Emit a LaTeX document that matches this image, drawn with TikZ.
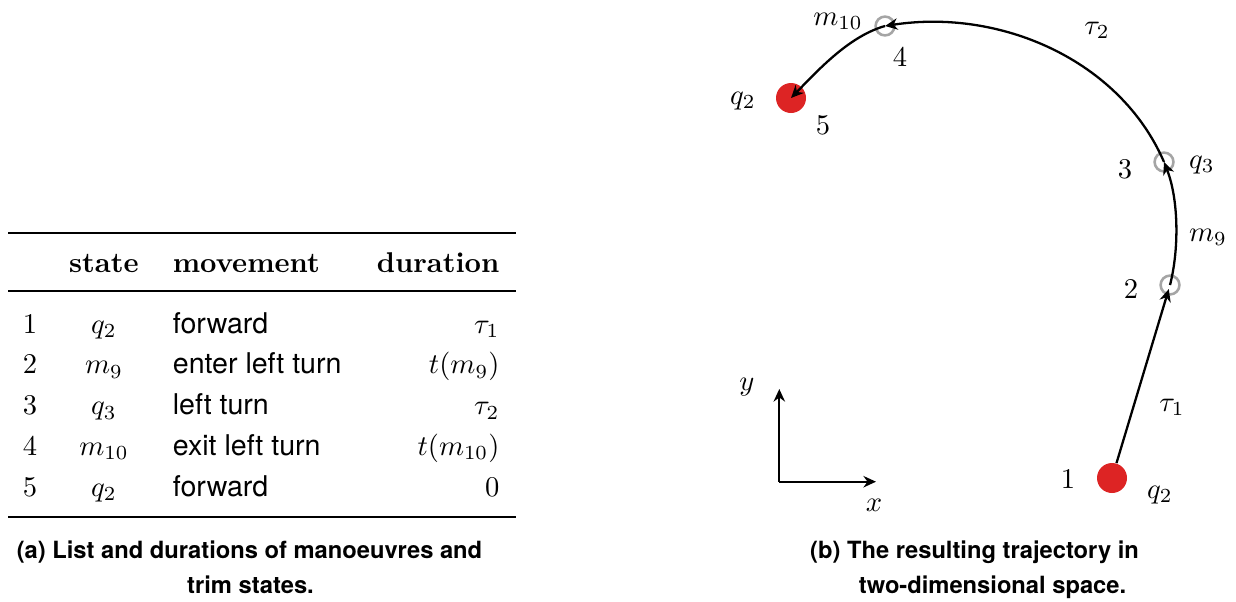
\documentclass[tikz,border=0pt]{standalone}
\usepackage{fontspec}
\newfontfamily\heros{TeX Gyre Heros}
\usetikzlibrary{arrows.meta}
\definecolor{dotred}{RGB}{221,36,36}
\definecolor{ringgray}{RGB}{165,165,165}
\begin{document}
\begin{tikzpicture}[x=0.35pt,y=-0.35pt,
  txt/.style={inner sep=0pt, font=\fontsize{10}{12}\selectfont},
  sanstxt/.style={inner sep=0pt, font=\heros\fontsize{10}{12}\selectfont},
  headtxt/.style={inner sep=0pt, font=\fontsize{10}{12}\selectfont\bfseries},
  captxt/.style={inner sep=0pt, font=\heros\bfseries\fontsize{8.3}{10}\selectfont},
  reddot/.style={circle, fill=dotred, minimum size=10.5pt, inner sep=0pt},
  ringdot/.style={circle, draw=ringgray, line width=0.9pt, minimum size=6.6pt, inner sep=0pt},
  traj/.style={line width=0.8pt, -{Stealth[length=4.4pt,width=4pt]}},
  heavyrule/.style={line width=0.8pt},
  lightrule/.style={line width=0.5pt}]
\useasboundingbox (0,0) rectangle (1236,601);

% ---------- table ----------
\draw[heavyrule] (8,233) -- (516,233);
\draw[lightrule] (8,291) -- (516,291);
\draw[heavyrule] (8,516.7) -- (516,516.7);

\node[headtxt, anchor=base] (hstate) at (104,272.7) {state};
\node[headtxt, anchor=base west] (hmove) at (172.3,272.7) {movement};
\node[headtxt, anchor=base east] (hdur) at (500,272.7) {duration};

\node[txt, anchor=base] (n1) at (30,333) {1};
\node[txt, anchor=base] (s1) at (104,333) {$q_2$};
\node[sanstxt, anchor=base west] (mv1) at (172.3,333) {forward};
\node[txt, anchor=base east] (d1) at (500,333) {$\tau_1$};

\node[txt, anchor=base] (n2) at (30,373.9) {2};
\node[txt, anchor=base] (s2) at (104,373.9) {$m_9$};
\node[sanstxt, anchor=base west] (mv2) at (172.3,373.9) {enter left turn};
\node[txt, anchor=base east] (d2) at (500,373.9) {$t(m_9)$};

\node[txt, anchor=base] (n3) at (30,414.8) {3};
\node[txt, anchor=base] (s3) at (104,414.8) {$q_3$};
\node[sanstxt, anchor=base west] (mv3) at (172.3,414.8) {left turn};
\node[txt, anchor=base east] (d3) at (500,414.8) {$\tau_2$};

\node[txt, anchor=base] (n4) at (30,455.7) {4};
\node[txt, anchor=base] (s4) at (104,455.7) {$m_{10}$};
\node[sanstxt, anchor=base west] (mv4) at (172.3,455.7) {exit left turn};
\node[txt, anchor=base east] (d4) at (500,455.7) {$t(m_{10})$};

\node[txt, anchor=base] (n5) at (30,496.6) {5};
\node[txt, anchor=base] (s5) at (104,496.6) {$q_2$};
\node[sanstxt, anchor=base west] (mv5) at (172.3,496.6) {forward};
\node[txt, anchor=base east] (d5) at (500,496.6) {$0$};

% ---------- captions ----------
\node[captxt, anchor=base] (capa1) at (249.5,558.5) {(a) List and durations of manoeuvres and};
\node[captxt, anchor=base] (capa2) at (250.5,593.5) {trim states.};
\node[captxt, anchor=base] (capb1) at (974.5,558.5) {(b) The resulting trajectory in};
\node[captxt, anchor=base] (capb2) at (992.5,593.5) {two-dimensional space.};

% ---------- trajectory ----------
\node[reddot] (p1) at (1112,478) {};
\node[ringdot] (p2) at (1170,285) {};
\node[ringdot] (p3) at (1164,162) {};
\node[ringdot] (p4) at (885,26) {};
\node[reddot] (p5) at (791,98) {};

\draw[traj, shorten >=1.5pt] (p1) -- (p2.center);
\draw[traj] (p2.center) .. controls (1179,250) and (1179,200) .. (p3.center);
\draw[traj] (p3.center) .. controls (1120,60) and (1000,8) .. (p4.center);
\draw[traj] (p4.center) .. controls (850,36) and (820,68) .. (p5.center);

\node[txt, anchor=base] (l1) at (1068,488) {1};
\node[txt, anchor=base] (lq1) at (1160,498) {$q_2$};
\node[txt, anchor=base] (lt1) at (1172,411) {$\tau_1$};
\node[txt, anchor=base] (l2) at (1131,298) {2};
\node[txt, anchor=base] (lm9) at (1208,241) {$m_9$};
\node[txt, anchor=base] (l3) at (1125,178) {3};
\node[txt, anchor=base] (lq3) at (1202,168) {$q_3$};
\node[txt, anchor=base] (lt2) at (1097,34) {$\tau_2$};
\node[txt, anchor=base] (lm10) at (838,25) {$m_{10}$};
\node[txt, anchor=base] (l4) at (900,66) {4};
\node[txt, anchor=base] (lq5) at (743,104) {$q_2$};
\node[txt, anchor=base] (l5) at (823,134) {5};

% ---------- axes ----------
\coordinate (o) at (779.3,481.7);
\coordinate (ytip) at (779.3,389);
\coordinate (xtip) at (876,481.7);
\draw[traj] (o) -- (ytip);
\draw[traj] (o) -- (xtip);
\node[txt, anchor=base] (ly) at (747,390) {$y$};
\node[txt, anchor=base] (lx) at (874,511) {$x$};
\end{tikzpicture}
\end{document}
